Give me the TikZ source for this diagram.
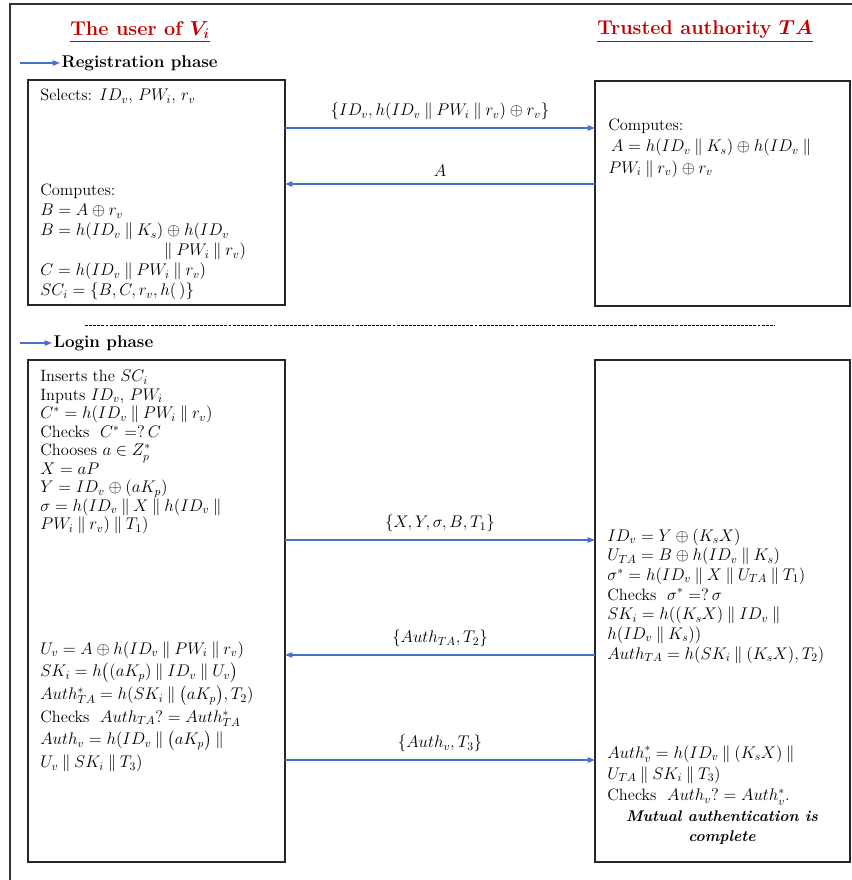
\documentclass[tikz,border=0pt]{standalone}
\usepackage{amsmath}
\usepackage{amssymb}
\usetikzlibrary{arrows.meta,positioning}
\definecolor{headred}{RGB}{192,0,0}
\definecolor{msgblue}{RGB}{68,114,196}
\newcommand{\concat}{\mathbin{\|}}
\newcommand{\lines}[1]{\fontsize{14}{#1}\selectfont}

\begin{document}
\begin{tikzpicture}[
x = 0.03cm, y = -0.03cm, % one unit = one pixel of the layout
> = {Triangle[length=2.2mm,width=1.6mm]},
font = \lines{16.6},
semithick
]

\tikzstyle{party}=[
draw = black!85,
line width = 1pt,
inner sep = 0pt,
outer sep = 0pt,
anchor = north west
]
\tikzstyle{steps}=[align=left, anchor=north west, inner sep=0pt]
\tikzstyle{msg}=[draw=msgblue, line width=0.9pt, ->]
\tikzstyle{head}=[text=headred, font=\fontsize{17}{20}\selectfont\bfseries\boldmath]
\tikzstyle{phase}=[anchor=west, inner sep=1pt, font=\fontsize{14.5}{16}\selectfont\bfseries]

\useasboundingbox (0,0) rectangle (852,880);
\draw[line width=1.2pt, black!80] (10,880) -- (10,4) -- (852,4);

\node[head] (user) at (140,32) {\underline{The user of $V_i$}};
\node[head] (ta) at (705,32) {\underline{Trusted authority $TA$}};

% registration phase
\node[phase] (reg) at (60,63) {Registration phase};
\coordinate (regtail) at (20,63);
\draw[msg] (regtail) -- (reg.west);

\node[party, minimum width=7.71cm, minimum height=6.75cm] (ureg) at (28,80) {};
\node[party, minimum width=7.65cm, minimum height=6.75cm] (tareg) at (595,81) {};

\node[steps] (sel) at (40,89) {Selects: $ID_v$, $PW_i$, $r_v$};
\node[steps, font=\lines{17}] (ucomp) at (40,184) {Computes:\\
$B = A \oplus r_v$\\
$B = h(ID_v \concat K_s) \oplus h(ID_v$\\
\hspace*{3.6cm}${}\concat PW_i \concat r_v)$\\
$C = h(ID_v \concat PW_i \concat r_v)$\\
$SC_i = \{B, C, r_v, h(\,)\}$};
\node[steps, font=\lines{18}] (tacomp) at (608,119) {Computes:\\
$\,A = h(ID_v \concat K_s) \oplus h(ID_v \concat{}$\\
$PW_i \concat r_v) \oplus r_v$};

\draw[msg] (ureg.east |- 0,128) -- node[above=3pt] {$\{ID_v, h(ID_v \concat PW_i \concat r_v) \oplus r_v\}$} (tareg.west |- 0,128);
\draw[msg] (tareg.west |- 0,184) -- node[above=3pt] {$A$} (ureg.east |- 0,184);

\draw[thin, dash pattern=on 2.5pt off 1pt] (85,325) -- (775,325);

% login phase
\node[phase] (login) at (52,343) {Login phase};
\coordinate (logtail) at (20,343);
\draw[msg] (logtail) -- (login.west);

\node[party, minimum width=7.71cm, minimum height=15.06cm] (ulog) at (28,360) {};
\node[party, minimum width=7.65cm, minimum height=15.06cm] (talog) at (595,360) {};

\node[steps, font=\lines{15.8}] (ustep1) at (40,370) {Inserts the $SC_i$\\
Inputs $ID_v$, $PW_i$\\
$C^* = h(ID_v \concat PW_i \concat r_v)$\\
Checks \ $C^* =?\, C$\\
Chooses $a \in Z_p^*$\\
$X = aP$\\
$Y = ID_v \oplus (aK_p)$\\
$\sigma = h(ID_v \concat X \concat h(ID_v \concat{}$\\
$PW_i \concat r_v) \concat T_1)$};
\node[steps, font=\lines{19.4}] (ustep2) at (40,641) {$U_v = A \oplus h(ID_v \concat PW_i \concat r_v)$\\
$SK_i = h\big((aK_p) \concat ID_v \concat U_v\big)$\\
$Auth_{TA}^* = h(SK_i \concat \big(aK_p\big), T_2)$\\
Checks \ $Auth_{TA}?= Auth_{TA}^*$\\
$Auth_v = h(ID_v \concat \big(aK_p\big) \concat{}$\\
$U_v \concat SK_i \concat T_3)$};
\node[steps, font=\lines{16.8}] (tastep1) at (607,528) {$ID_v = Y \oplus (K_s X)$\\
$U_{TA} = B \oplus h(ID_v \concat K_s)$\\
$\sigma^* = h(ID_v \concat X \concat U_{TA} \concat T_1)$\\
Checks \ $\sigma^* =?\, \sigma$\\
$SK_i = h((K_s X) \concat ID_v \concat{}$\\
$h(ID_v \concat K_s))$\\
$Auth_{TA} = h(SK_i \concat (K_s X), T_2)$};
\node[steps, font=\lines{18.3}] (tastep2) at (607,745) {$Auth_v^* = h(ID_v \concat (K_s X) \concat{}$\\
$U_{TA} \concat SK_i \concat T_3)$\\
Checks \ $Auth_v?= Auth_v^*$.};
\node[font=\fontsize{13.2}{17}\selectfont\bfseries\itshape, align=center, inner sep=0pt] (done) at (722,828) {Mutual authentication is\\ complete};

\draw[msg] (ulog.east |- 0,540) -- node[above=3pt] {$\{X, Y, \sigma, B, T_1\}$} (talog.west |- 0,540);
\draw[msg] (talog.west |- 0,655) -- node[above=3pt] {$\{Auth_{TA}, T_2\}$} (ulog.east |- 0,655);
\draw[msg] (ulog.east |- 0,760) -- node[above=3pt] {$\{Auth_v, T_3\}$} (talog.west |- 0,760);

\end{tikzpicture}
\end{document}
